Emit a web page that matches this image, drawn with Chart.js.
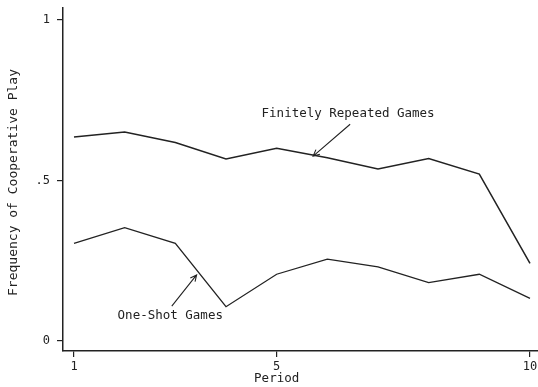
<!DOCTYPE html>
<html>
<head>
<meta charset="utf-8">
<script src="https://cdn.jsdelivr.net/npm/chart.js@4/dist/chart.umd.min.js"></script>
<style>
  html, body { margin: 0; padding: 0; background: #fff; }
  #wrap { width: 538px; height: 387px; position: relative; }
</style>
</head>
<body>
<div id="wrap"><canvas id="c"></canvas></div>
<script>
// Frequency of cooperative play by period
const periods = [1, 2, 3, 4, 5, 6, 7, 8, 9, 10];
const repeatedGames = [0.635, 0.651, 0.618, 0.567, 0.600, 0.571, 0.536, 0.568, 0.520, 0.242];
const oneShotGames = [0.304, 0.353, 0.304, 0.107, 0.208, 0.255, 0.231, 0.182, 0.208, 0.133];
const xTickValues = [1, 5, 10];
const yTickValues = [0, 0.5, 1];
const yTickLabels = ['0', '.5', '1'];
const seriesNames = ['Finitely Repeated Games', 'One-Shot Games'];
const xTitle = 'Period';
const yTitle = 'Frequency of Cooperative Play';

const ink = '#222';
const fontFamily = '"DejaVu Sans Mono", "Liberation Mono", monospace';

// Series labels with pointer arrows (data coordinates)
const callouts = [
  { text: seriesNames[0], at: [6.41, 0.709], tail: [6.45, 0.675], tip: [5.72, 0.576] },
  { text: seriesNames[1], at: [2.90, 0.079], tail: [2.93, 0.109], tip: [3.42, 0.206] }
];

const toPoints = (vals) => vals.map((v, i) => ({ x: periods[i], y: v }));

const calloutPlugin = {
  id: 'callouts',
  afterDraw(chart) {
    const { ctx, scales: { x, y }, chartArea } = chart;
    ctx.save();
    ctx.fillStyle = ink;
    ctx.strokeStyle = ink;
    ctx.lineWidth = 1.1;
    ctx.font = '12.5px ' + fontFamily;
    ctx.textAlign = 'center';
    ctx.textBaseline = 'middle';
    callouts.forEach(c => {
      ctx.fillText(c.text, x.getPixelForValue(c.at[0]), y.getPixelForValue(c.at[1]));
      const x0 = x.getPixelForValue(c.tail[0]), y0 = y.getPixelForValue(c.tail[1]);
      const x1 = x.getPixelForValue(c.tip[0]), y1 = y.getPixelForValue(c.tip[1]);
      ctx.beginPath();
      ctx.moveTo(x0, y0);
      ctx.lineTo(x1, y1);
      const ang = Math.atan2(y1 - y0, x1 - x0);
      const head = 7, spread = 0.45;
      ctx.moveTo(x1 - head * Math.cos(ang - spread), y1 - head * Math.sin(ang - spread));
      ctx.lineTo(x1, y1);
      ctx.lineTo(x1 - head * Math.cos(ang + spread), y1 - head * Math.sin(ang + spread));
      ctx.stroke();
    });
    // axis titles
    ctx.font = '12.5px ' + fontFamily;
    ctx.fillText(xTitle, x.getPixelForValue(5), 379);
    ctx.translate(14, (chartArea.top + chartArea.bottom) / 2 + 3);
    ctx.rotate(-Math.PI / 2);
    ctx.font = '13px ' + fontFamily;
    ctx.fillText(yTitle, 0, 0);
    ctx.restore();
  }
};

new Chart(document.getElementById('c'), {
  type: 'line',
  data: {
    datasets: [
      { label: seriesNames[0], data: toPoints(repeatedGames), borderColor: ink, borderWidth: 1.5, pointRadius: 0, tension: 0 },
      { label: seriesNames[1], data: toPoints(oneShotGames), borderColor: ink, borderWidth: 1.3, pointRadius: 0, tension: 0 }
    ]
  },
  options: {
    responsive: true,
    maintainAspectRatio: false,
    animation: false,
    layout: { padding: { top: 8, right: 0, left: 0, bottom: 0 } },
    plugins: { legend: { display: false }, tooltip: { enabled: false } },
    scales: {
      x: {
        type: 'linear',
        min: 0.783,
        max: 10.158,
        afterBuildTicks: s => { s.ticks = xTickValues.map(v => ({ value: v })); },
        afterFit: s => { s.height = 36; s.paddingLeft = 0; s.paddingRight = 0; },
        grid: { drawOnChartArea: false, drawTicks: true, tickLength: 6, color: ink, lineWidth: 1.2 },
        border: { display: true, color: ink, width: 1.5 },
        ticks: { color: ink, padding: 3, maxRotation: 0, font: { family: fontFamily, size: 12 }, callback: v => String(v) }
      },
      y: {
        type: 'linear',
        min: -0.031,
        max: 1.037,
        afterBuildTicks: s => { s.ticks = yTickValues.map(v => ({ value: v })); },
        afterFit: s => { s.width = 63; s.paddingTop = 0; s.paddingBottom = 0; },
        grid: { drawOnChartArea: false, drawTicks: true, tickLength: 6, color: ink, lineWidth: 1.2 },
        border: { display: true, color: ink, width: 1.5 },
        ticks: { color: ink, padding: 7, font: { family: fontFamily, size: 12 },
          callback: v => yTickLabels[yTickValues.indexOf(v)] }
      }
    }
  },
  plugins: [calloutPlugin]
});
</script>
</body>
</html>
